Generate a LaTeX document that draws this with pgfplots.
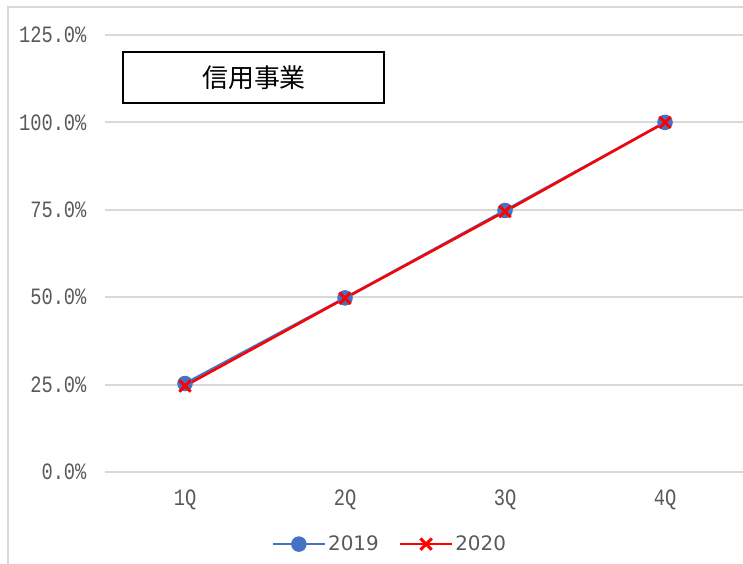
\documentclass[border=0pt]{standalone}
\usepackage{pgfplots}
\pgfplotsset{compat=1.18}
\usepackage{fontspec}
\setmainfont{Liberation Sans}
\newfontfamily\cjk{Noto Sans CJK JP}
\newfontfamily\tickfont[FakeStretch=0.8]{Liberation Mono}
\newfontfamily\legfont{DejaVu Sans}
\definecolor{txt}{HTML}{595959}
\definecolor{gridc}{HTML}{D9D9D9}
\definecolor{blue19}{HTML}{4472C4}
\begin{document}
\begin{tikzpicture}[x=1bp,y=1bp]
\path[use as bounding box] (0,0) rectangle (743,564);
\begin{scope}
\clip (0,0) rectangle (743,564);
\draw[gridc, line width=2bp] (8,-5) -- (8,557) -- (760,557);
\begin{axis}[
  at={(105bp,92bp)}, anchor=south west,
  scale only axis, width=640bp, height=437bp,
  xmin=-0.5, xmax=3.5, ymin=0, ymax=125,
  xtick={0,1,2,3}, xticklabels={1Q,2Q,3Q,4Q},
  ytick={0,25,50,75,100,125},
  yticklabels={0.0\%,25.0\%,50.0\%,75.0\%,100.0\%,125.0\%},
  ymajorgrids, grid style={gridc, line width=2bp},
  axis line style={draw=none}, major tick length=0pt,
  tick label style={font=\tickfont\fontsize{23.5}{23.5}\selectfont, text=txt},
  yticklabel style={xshift=-15bp},
  xticklabel style={yshift=-14bp},
  legend style={at={(0.445,-0.165)}, anchor=center, draw=none, fill=none,
    font=\legfont\fontsize{20}{20}\selectfont, text=txt,
    /tikz/every even column/.append style={column sep=18bp}},
  legend columns=2,
  legend image code/.code={\draw[mark repeat=2,mark phase=2] plot coordinates {(0bp,0bp) (26bp,0bp) (52bp,0bp)};},
]
\addplot[blue19, line width=2.5bp, mark=*, mark size=6.5bp, mark options={fill=blue19}] coordinates {(0,25.3)(1,49.8)(2,74.8)(3,100)};
\addlegendentry{2019}
\addplot[red, line width=2.5bp, mark=x, mark size=8bp, mark options={line width=3bp}] coordinates {(0,24.6)(1,49.7)(2,74.5)(3,100)};
\addlegendentry{2020}
\end{axis}
\end{scope}
\draw[black, line width=2bp] (123,512) rectangle (384,461);
\node at (254,486.5) {\cjk\fontsize{26}{26}\selectfont 信用事業};
\end{tikzpicture}
\end{document}
